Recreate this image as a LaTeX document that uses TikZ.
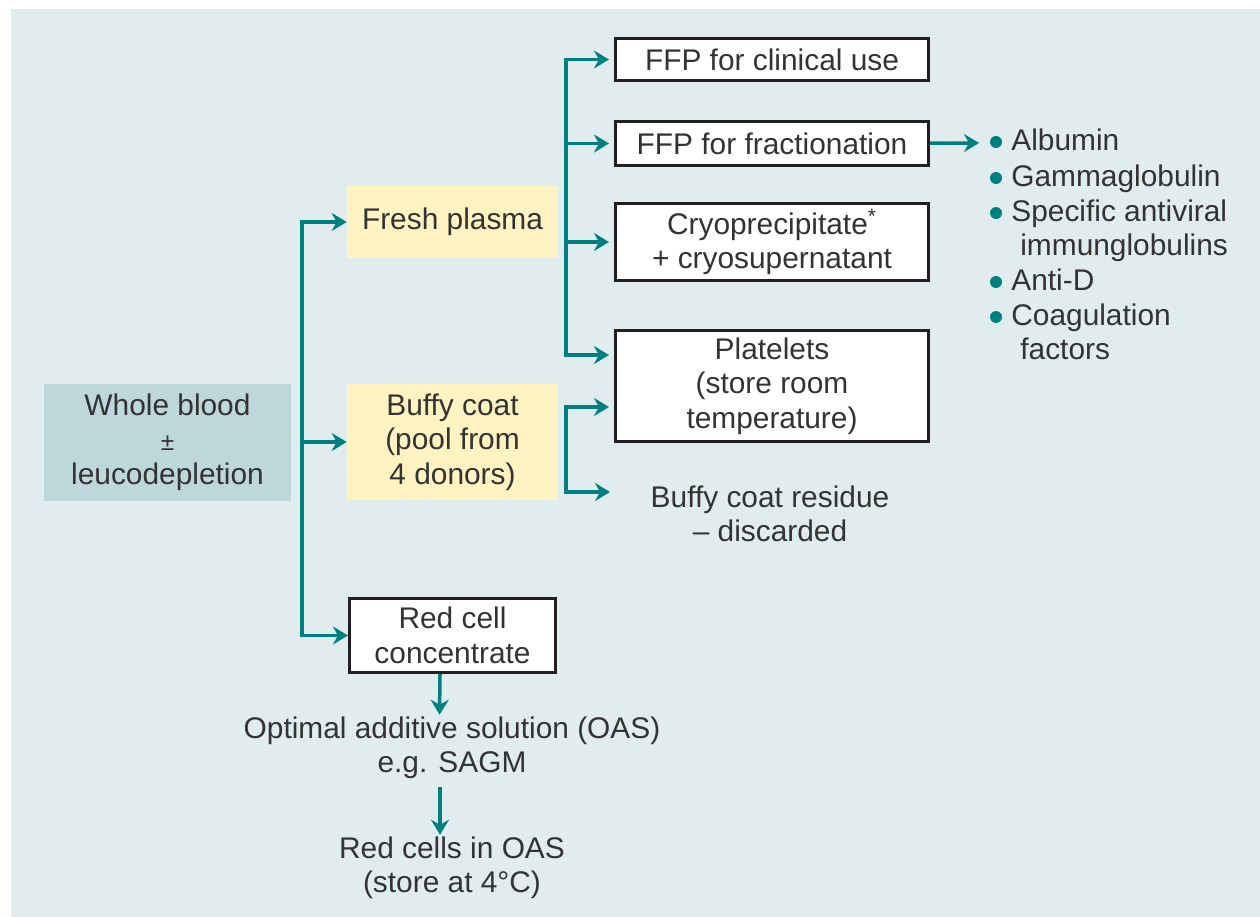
\documentclass[tikz,border=0pt]{standalone}
\usepackage{fontspec}
\setmainfont{Liberation Sans}
\usetikzlibrary{arrows.meta,positioning}

\definecolor{bgblue}{HTML}{E1ECEE}
\definecolor{wholefill}{HTML}{BDD7DB}
\definecolor{creamfill}{HTML}{FFF3C2}
\definecolor{arrowteal}{HTML}{007F80}
\definecolor{boxblack}{HTML}{231F20}
\definecolor{inkgrey}{HTML}{333333}

\begin{document}
\begin{tikzpicture}[x=0.02cm, y=-0.02cm,
    txt/.style={font=\fontsize{17}{19.6}\selectfont, text=inkgrey, align=center},
    wbox/.style={txt, rectangle, draw=boxblack, line width=1.8pt, fill=white, minimum width=6.26cm},
    cream/.style={txt, rectangle, fill=creamfill, minimum width=4.22cm},
    listitem/.style={font=\fontsize{17}{19.6}\selectfont, text=inkgrey, inner sep=0pt, anchor=base west},
    arrow/.style={-{Stealth[length=0.3cm, width=0.36cm, inset=0.1cm]}, line width=2pt, draw=arrowteal}
]
    \useasboundingbox (0,0) rectangle (1260,916);
    \fill[bgblue] (11,9) rectangle (1270,926);

    \node[txt, fill=wholefill, minimum width=4.94cm, minimum height=2.34cm] (whole) at (167.5,442.5) {Whole blood\\{\fontsize{14}{19.6}\selectfont ±}\\leucodepletion};

    \node[cream, minimum height=1.44cm] (plasma) at (452.5,222) {Fresh plasma};
    \node[cream, minimum height=2.32cm] (buffy) at (452.5,442) {Buffy coat\\(pool from\\4 donors)};
    \node[wbox, minimum width=4.12cm, minimum height=1.48cm] (redcell) at (452.5,635.5) {Red cell\\concentrate};

    \node[wbox, minimum height=0.84cm] (ffpclin) at (772,59.5) {FFP for clinical use};
    \node[wbox, minimum height=0.88cm] (ffpfrac) at (772,143.5) {FFP for fractionation};
    \node[wbox, minimum height=1.42cm] (cryo) at (772,242) {Cryoprecipitate\textsuperscript{*}\\+ cryosupernatant};
    \node[wbox, minimum height=2.22cm] (platelets) at (772,386) {Platelets\\(store room\\temperature)};
    \node[txt] (residue) at (770,514) {Buffy coat residue\\– discarded};

    \node[txt, inner sep=1pt] (oas) at (452,748) {Optimal additive solution (OAS)\\e.g. SAGM};
    \node[txt, inner sep=1pt] (redoas) at (452,868) {Red cells in OAS\\(store at 4°C)};

    \foreach \nm/\xx/\yy/\txt in {alb/1011/150/Albumin, gam/1011/186/Gammaglobulin,
        spa/1011/221/Specific antiviral, imm/1020/255/immunglobulins, ant/1011/290/Anti-D,
        coa/1011/325/Coagulation, fac/1020/359/factors}
        \node[listitem] (\nm) at (\xx,\yy) {\txt};
    \foreach \nm in {alb,gam,spa,ant,coa}
        \fill[arrowteal] ([xshift=-0.3cm, yshift=0.16cm]\nm.base west) circle (0.12cm);

    \coordinate (split1) at (302,440);
    \coordinate (split2) at (566,218);
    \coordinate (split3) at (566,450);
    \coordinate (residuein) at (610,492);
    \coordinate (productsin) at (979,143);

    \draw[arrow] (split1) |- (plasma);
    \draw[arrow] (split1) |- (buffy);
    \draw[arrow] (split1) |- (redcell);

    \draw[arrow, shorten >=0.1cm] (split2) |- (ffpclin);
    \draw[arrow, shorten >=0.1cm] (split2) |- (ffpfrac);
    \draw[arrow, shorten >=0.1cm] (split2) |- (cryo);
    \draw[arrow, shorten >=0.1cm] (split2) |- ([yshift=0.62cm]platelets.west);

    \draw[arrow, shorten >=0.1cm] (split3) |- ([yshift=-0.42cm]platelets.west);
    \draw[arrow] (split3) |- (residuein);

    \draw[arrow] (ffpfrac) -- (productsin);

    \draw[arrow] ([xshift=-0.25cm]redcell.south) -- ([xshift=-0.25cm]oas.north);
    \draw[arrow, shorten <=0.12cm] ([xshift=-0.24cm]oas.south) -- ([xshift=-0.24cm]redoas.north);
\end{tikzpicture}
\end{document}
